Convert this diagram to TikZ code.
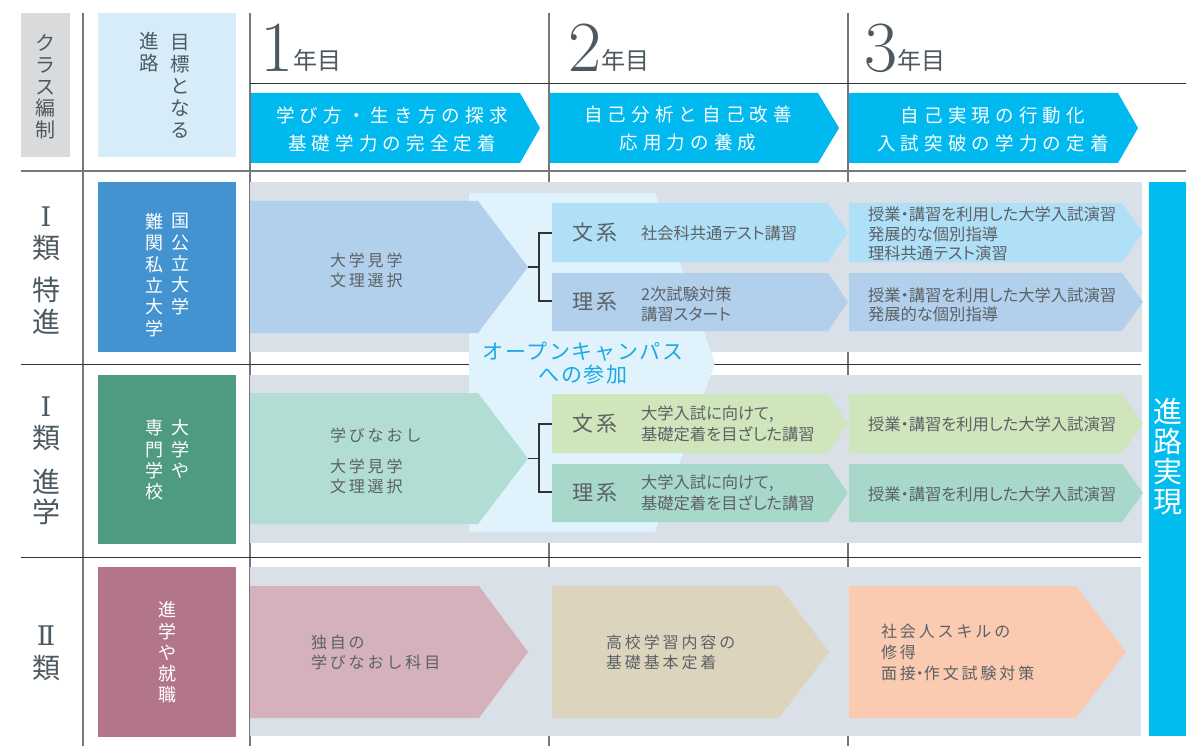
\documentclass[tikz,border=0pt]{standalone}
\usepackage{fontspec}
\newfontfamily\jp{Noto Sans CJK JP}
\newfontfamily\jpc{Noto Sans CJK JP}[RawFeature=+palt]
\newfontfamily\jphd{Noto Sans CJK JP}[LetterSpace=28]
\newfontfamily\jpls{Noto Sans CJK JP}[LetterSpace=18]
\newfontfamily\jpml{Noto Sans CJK JP}[LetterSpace=19]
\newfontfamily\jpoc{Noto Sans CJK JP}[LetterSpace=8]
\newfontfamily\romnum{DejaVu Serif}
\newcommand\fs[2]{\fontsize{#1}{#2}\selectfont}
\definecolor{gray1}{HTML}{D9DADC}
\definecolor{hdblue}{HTML}{D6ECF9}
\definecolor{arrcyan}{HTML}{00B9EF}
\definecolor{barcyan}{HTML}{00BCEF}
\definecolor{lblue}{HTML}{4393D0}
\definecolor{lgreen}{HTML}{4E9B80}
\definecolor{lmauve}{HTML}{B37689}
\definecolor{band}{HTML}{D9E0E7}
\definecolor{rAbig}{HTML}{B2D0EB}
\definecolor{rAbun}{HTML}{B0E0F7}
\definecolor{rAri}{HTML}{B2D0EB}
\definecolor{rBbig}{HTML}{B2DDD4}
\definecolor{rBbun}{HTML}{CFE5BC}
\definecolor{rBri}{HTML}{A7D8CA}
\definecolor{rCbig}{HTML}{D5B2BB}
\definecolor{rCmid}{HTML}{DDD4BD}
\definecolor{rCend}{HTML}{FBCBB1}
\definecolor{ocbg}{HTML}{E0F2FB}
\definecolor{octxt}{HTML}{1BAAE2}
\definecolor{txt}{HTML}{5C6166}
\definecolor{labtxt}{HTML}{4D5961}
\definecolor{linegray}{HTML}{777777}
\definecolor{linedark}{HTML}{333333}
% chevron: colour, x1, ytop, xflat, xtip, ybottom
\newcommand\chev[6]{\fill[#1] (#2,#3) -- (#4,#3) -- (#5,{(#3+#6)/2}) -- (#4,#6) -- (#2,#6) -- cycle;}
\newcommand\ndot{{\jpc ・}}
\tikzset{
  every node/.style={inner sep=0pt, outer sep=0pt},
  vline/.style={draw=linegray, line width=1.3pt},
  hline/.style={draw=linedark, line width=1pt},
  brk/.style={draw=linedark, line width=1.2pt},
  body/.style={text=txt, align=left, anchor=west, font=\jpls\fs{16}{20}},
  cond/.style={text=txt, align=left, anchor=west, font=\jpc\fs{16.3}{19.5}},
  kei/.style={text=txt, anchor=center, font=\jpml\fs{21}{24}},
  hdtext/.style={text=white, align=center, font=\jphd\fs{18.5}{28}},
  boxlab/.style={text=white, align=center, font=\jp\fs{18}{21.3}},
  rowlab/.style={text=labtxt, font=\jp\fs{28}{30}},
  romlab/.style={text=labtxt, font=\romnum\fs{27}{28}},
  toplab/.style={text=labtxt, align=center, font=\jp\fs{19.5}{22}},
}
\begin{document}
\begin{tikzpicture}[x=1pt,y=-1pt]
\useasboundingbox (0,0) rectangle (1186,746);
\fill[white] (0,0) rectangle (1186,746);
% ---- grid lines
\draw[vline] (83,13) -- (83,746);
\draw[vline] (250,13) -- (250,746);
\draw[vline] (549,13) -- (549,746);
\draw[vline] (848,13) -- (848,746);
\draw[hline] (250,84) -- (1186,84);
\draw[vline] (21,171) -- (1186,171);
\draw[hline] (21,364) -- (1141,364);
\draw[hline] (21,557) -- (1141,557);
% ---- header cells
\fill[gray1] (21,13) rectangle (70,157);
\node[toplab, font=\jp\fs{20}{21.7}] (klass) at (45.5,87) {ク\\ラ\\ス\\編\\制};
\fill[hdblue] (98,13) rectangle (236,157);
\node[toplab] (goalA) at (180,86) {目\\標\\と\\な\\る};
\node[toplab] (goalB) at (149,52) {進\\路};
% ---- year headings
\node[anchor=base west, text=labtxt] (y1) at (260,72) {{\fs{72}{72}1}{\jp\fs{24}{24}\raisebox{2pt}{年目}}};
\node[anchor=base west, text=labtxt] (y2) at (568,72) {{\fs{72}{72}2}{\jp\fs{24}{24}\raisebox{2pt}{年目}}};
\node[anchor=base west, text=labtxt] (y3) at (864,72) {{\fs{72}{72}3}{\jp\fs{24}{24}\raisebox{2pt}{年目}}};
% ---- header arrows
\chev{arrcyan}{251}{93}{520}{540}{163}
\chev{arrcyan}{550}{93}{818}{839}{163}
\chev{arrcyan}{849}{93}{1118}{1138}{163}
\node[hdtext] (hd1) at (392,129) {学び方・生き方の探求\\基礎学力の完全定着};
\node[hdtext] (hd2) at (688,129) {自己分析と自己改善\\応用力の養成};
\node[hdtext] (hd3) at (993,129) {自己実現の行動化\\入試突破の学力の定着};
% ---- bands
\fill[band] (250,182) rectangle (1142,352);
\fill[band] (250,375) rectangle (1142,543);
\fill[band] (250,567) rectangle (1141,736);
% ---- open campus overlay
\fill[ocbg] (469,193) -- (655,193) -- (715,363) -- (655,532) -- (469,532) -- cycle;
\node[text=octxt, align=center, font=\jpoc\fs{21}{23}] (oc) at (583,363.5) {オープンキャンパス\\への参加};
% ---- row 1
\chev{rAbig}{250}{201}{478}{528}{333}
\chev{rAbun}{552}{203}{828}{848}{262}
\chev{rAri}{552}{273}{828}{848}{331}
\chev{rAbun}{849}{203}{1122}{1143}{262}
\chev{rAri}{849}{273}{1122}{1143}{331}
\coordinate (tA) at (528,267);
\coordinate (jA) at (539,267);
\coordinate (bA) at (552,233);
\coordinate (rA) at (552,301);
\draw[brk] (tA) -- (jA);
\draw[brk] (bA) -| (jA) |- (rA);
\node[body] (a1) at (330,270) {大学見学\\文理選択};
\node[kei] (a2) at (595,233) {文系};
\node[kei] (a3) at (595,302) {理系};
\node[cond] (a4) at (641,233) {社会科共通テスト講習};
\node[cond] (a5) at (641,304.5) {2次試験対策\\講習スタート};
\node[cond] (a6) at (868,234) {授業・講習を利用した大学入試演習\\発展的な個別指導\\理科共通テスト演習};
\node[cond] (a7) at (868,305) {授業・講習を利用した大学入試演習\\発展的な個別指導};
% ---- row 2
\chev{rBbig}{250}{393}{478}{528}{524}
\chev{rBbun}{552}{394}{828}{848}{453}
\chev{rBri}{552}{464}{828}{848}{522}
\chev{rBbun}{849}{394}{1122}{1143}{453}
\chev{rBri}{849}{464}{1122}{1143}{522}
\coordinate (tB) at (528,458.5);
\coordinate (jB) at (539,458.5);
\coordinate (bB) at (552,424);
\coordinate (rB) at (552,492);
\draw[brk] (tB) -- (jB);
\draw[brk] (bB) -| (jB) |- (rB);
\node[body] (b1) at (330,435) {学びなおし};
\node[body] (b2) at (330,476) {大学見学\\文理選択};
\node[kei] (b3) at (595,423.5) {文系};
\node[kei] (b4) at (595,493) {理系};
\node[cond, font=\jpc\fs{16.3}{21}] (b5) at (641,423.5) {大学入試に向けて,\\基礎定着を目ざした講習};
\node[cond, font=\jpc\fs{16.3}{21}] (b6) at (641,493) {大学入試に向けて,\\基礎定着を目ざした講習};
\node[cond] (b7) at (868,424) {授業・講習を利用した大学入試演習};
\node[cond] (b8) at (868,494) {授業・講習を利用した大学入試演習};
% ---- row 3
\chev{rCbig}{250}{586}{479}{528}{718}
\chev{rCmid}{552}{586}{779}{829}{718}
\chev{rCend}{849}{586}{1076}{1126}{718}
\node[body] (c1) at (311,652) {独自の\\学びなおし科目};
\node[body] (c2) at (606,652) {高校学習内容の\\基礎基本定着};
\node[body, font=\jpls\fs{16}{21}] (c3) at (881,652) {社会人スキルの\\修得\\面接\ndot 作文試験対策};
% ---- right bar
\fill[barcyan] (1149,182) rectangle (1186,736);
\node[text=white, align=center, font=\jp\fs{29}{30}] (goal) at (1167.5,457) {進\\路\\実\\現};
% ---- class labels
\fill[lblue] (98,182) rectangle (236,352);
\node[boxlab] (la1) at (180,264) {国\\公\\立\\大\\学};
\node[boxlab] (la2) at (154,275) {難\\関\\私\\立\\大\\学};
\fill[lgreen] (98,375) rectangle (236,544);
\node[boxlab] (lb1) at (180,449) {大\\学\\や};
\node[boxlab] (lb2) at (154,460) {専\\門\\学\\校};
\fill[lmauve] (98,567) rectangle (236,737);
\node[boxlab] (lc1) at (167,652.5) {進\\学\\や\\就\\職};
% ---- row labels
\node[romlab] (ra1) at (46,217) {Ⅰ};
\node[rowlab] (ra2) at (46,248) {類};
\node[rowlab] (ra3) at (46,290) {特};
\node[rowlab] (ra4) at (46,322) {進};
\node[romlab] (rb1) at (46,407) {Ⅰ};
\node[rowlab] (rb2) at (46,438) {類};
\node[rowlab] (rb3) at (46,482) {進};
\node[rowlab] (rb4) at (46,512) {学};
\node[romlab] (rc1) at (46,636) {Ⅱ};
\node[rowlab] (rc2) at (46,668) {類};
\end{tikzpicture}
\end{document}
